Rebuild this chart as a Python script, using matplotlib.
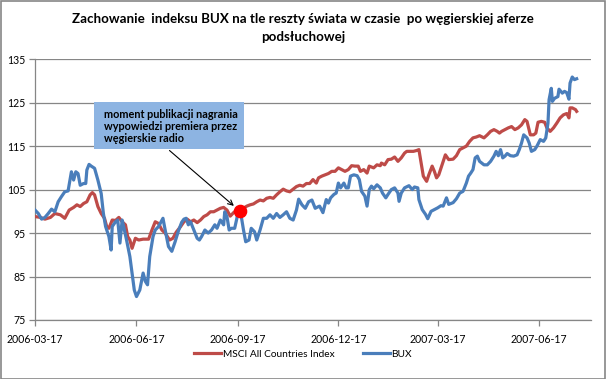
import matplotlib
matplotlib.use("Agg")
import matplotlib.pyplot as plt
from matplotlib.patches import Rectangle
import pandas as pd

# ---------------- data (days since 2006-03-17, index value) ----------------
start_date = "2006-03-17"

bux_days = [0, 3, 6, 9, 12, 15, 18, 21, 24, 27, 30, 33, 35, 37, 39, 41, 44, 46, 47, 49, 51, 54, 57, 60,
            62, 64, 67, 69, 70, 73, 75, 77, 79, 80, 83, 86, 88, 90, 92, 95, 98, 100, 102, 104, 107, 109,
            112, 116, 118, 121, 124, 127, 130, 133, 135, 137, 139, 141, 144, 147, 149, 151, 154, 157, 160,
            163, 165, 168, 171, 172, 174, 176, 178, 181, 183, 184, 187, 189, 191, 194, 196, 199, 201, 204,
            207, 210, 213, 216, 219, 222, 225, 228, 231, 234, 237, 239, 242, 245, 248, 251, 254, 257, 258,
            261, 264, 266, 268, 271, 273, 275, 277, 280, 282, 284, 286, 289, 292, 294, 296, 299, 301, 303,
            305, 307, 310, 313, 315, 318, 320, 323, 326, 329, 330, 332, 335, 339, 342, 344, 347, 348, 351,
            354, 356, 359, 362, 365, 368, 370, 373, 375, 377, 379, 382, 385, 388, 391, 393, 395, 397, 399,
            401, 403, 407, 410, 413, 416, 418, 420, 422, 424, 426, 428, 431, 434, 437, 439, 441, 443, 446,
            448, 450, 453, 455, 458, 461, 463, 465, 466, 468, 469, 471, 474, 475, 478, 480, 482, 484, 485,
            487, 489, 491]
bux_values = [100.3, 99.5, 98.2, 98.6, 99.5, 100.5, 99.9, 102.2, 103.4, 104.5, 104.7, 109.1, 107.2, 109.1,
              108.7, 106.0, 106.4, 106.4, 109.5, 110.8, 110.4, 109.9, 107.2, 104.1, 99.5, 96.5, 94.2, 91.1,
              96.5, 97.6, 98.0, 92.7, 98.0, 96.9, 93.4, 89.6, 85.8, 81.9, 80.4, 81.9, 85.8, 83.9, 83.1,
              89.6, 94.2, 95.7, 96.5, 98.4, 95.7, 91.9, 90.8, 93.0, 95.5, 97.5, 98.2, 98.4, 96.9, 97.6,
              95.7, 93.8, 93.4, 94.2, 95.7, 95.0, 95.7, 96.9, 96.1, 98.0, 96.9, 99.9, 98.8, 95.7, 96.1,
              96.1, 98.4, 100.3, 98.8, 95.7, 93.0, 93.4, 96.1, 95.3, 93.4, 95.7, 98.4, 98.4, 99.2, 98.4,
              99.5, 98.6, 99.2, 99.9, 98.4, 98.0, 100.3, 102.8, 101.5, 100.7, 102.2, 102.6, 100.7, 101.1,
              101.2, 99.7, 102.7, 101.9, 103.1, 103.9, 104.2, 106.5, 105.4, 106.5, 105.4, 105.4, 108.1,
              108.4, 108.2, 107.3, 104.6, 103.5, 101.2, 105.0, 105.8, 105.2, 106.1, 105.4, 104.2, 103.1,
              103.9, 105.0, 105.4, 104.2, 102.3, 104.2, 105.4, 105.9, 105.0, 105.6, 105.4, 102.7, 100.4,
              99.3, 98.3, 100.0, 100.4, 100.8, 101.3, 101.2, 103.1, 101.6, 101.8, 102.0, 102.9, 104.2,
              104.6, 106.5, 108.1, 108.8, 109.6, 112.3, 112.7, 111.5, 110.7, 110.7, 111.5, 112.7, 113.8,
              112.8, 114.2, 112.3, 112.7, 113.3, 112.8, 112.7, 113.0, 114.2, 115.7, 117.6, 116.9, 115.7,
              113.8, 114.2, 115.0, 116.5, 116.1, 116.9, 120.3, 125.7, 128.3, 125.3, 126.0, 126.4, 128.1,
              127.2, 127.6, 127.3, 125.8, 129.5, 130.9, 130.3, 130.5]

msci_days = [0, 5, 9, 14, 18, 23, 27, 31, 35, 38, 41, 44, 47, 50, 52, 54, 57, 60, 63, 65, 67, 70, 73, 76,
             79, 82, 84, 86, 88, 91, 94, 98, 103, 106, 109, 112, 115, 118, 122, 125, 128, 132, 135, 138,
             141, 144, 147, 150, 153, 156, 159, 162, 165, 168, 171, 174, 177, 180, 183, 186, 189, 192,
             195, 198, 201, 204, 207, 210, 213, 216, 219, 222, 225, 228, 231, 234, 237, 240, 243, 246,
             249, 252, 255, 257, 260, 263, 266, 269, 272, 275, 278, 281, 284, 287, 290, 293, 295, 298,
             301, 303, 307, 310, 313, 314, 317, 320, 323, 326, 329, 332, 335, 337, 340, 343, 346, 348,
             350, 352, 355, 357, 360, 362, 364, 366, 369, 372, 375, 379, 382, 385, 388, 391, 394, 397,
             400, 403, 407, 410, 413, 416, 419, 421, 423, 426, 429, 432, 435, 438, 441, 444, 446, 449,
             452, 454, 456, 459, 462, 464, 467, 470, 473, 476, 479, 482, 484, 485, 487, 490, 491]
msci_values = [98.8, 98.6, 98.2, 98.6, 99.5, 99.2, 98.4, 100.3, 100.9, 101.5, 101.1, 101.8, 102.2, 103.8,
               104.3, 103.8, 101.1, 99.5, 98.4, 96.5, 96.1, 98.0, 97.9, 98.6, 97.6, 96.9, 94.2, 93.4,
               91.5, 93.8, 93.4, 93.6, 93.6, 95.7, 97.6, 97.2, 95.7, 95.0, 93.4, 93.8, 95.2, 96.5, 97.6,
               98.2, 97.6, 98.0, 97.4, 98.0, 98.8, 99.2, 99.9, 99.9, 100.3, 100.7, 100.9, 100.3, 98.9,
               99.7, 100.3, 100.3, 100.7, 101.2, 101.5, 101.7, 102.2, 102.6, 102.4, 103.0, 103.2, 103.0,
               103.8, 104.5, 105.1, 104.7, 104.5, 105.1, 105.7, 106.0, 105.8, 106.4, 106.4, 107.3, 106.5,
               107.7, 108.1, 108.4, 108.7, 109.2, 109.2, 110.0, 109.6, 109.2, 109.6, 110.5, 110.4, 110.4,
               109.2, 109.6, 108.8, 110.4, 110.0, 110.7, 110.5, 111.1, 110.7, 111.9, 112.0, 112.5, 111.5,
               112.3, 113.4, 113.8, 113.8, 113.8, 114.0, 114.2, 111.1, 108.1, 106.9, 108.4, 110.4, 109.2,
               107.7, 108.4, 110.7, 113.0, 111.9, 112.0, 112.8, 114.2, 114.6, 115.0, 116.1, 116.9, 117.1,
               117.4, 116.9, 117.6, 118.4, 118.8, 118.4, 118.0, 118.4, 118.8, 119.2, 119.5, 118.8, 119.2,
               119.9, 121.1, 120.7, 117.6, 117.6, 118.0, 120.5, 120.7, 120.5, 119.2, 118.4, 119.2, 120.3,
               121.5, 122.2, 122.5, 121.5, 123.8, 123.8, 123.4, 123.0]

event_day = 186
event_value = 100.0

tick_labels = ["2006-03-17", "2006-06-17", "2006-09-17", "2006-12-17", "2007-03-17", "2007-06-17"]
y_ticks = [75, 85, 95, 105, 115, 125, 135]

series_names = ["MSCI All Countries Index", "BUX"]
title_lines = ["Zachowanie  indeksu BUX na tle reszty świata w czasie  po węgierskiej aferze",
               "podsłuchowej"]
note_lines = ["moment publikacji nagrania", "wypowiedzi premiera przez", "węgierskie radio"]

# ---------------- plotting ----------------
FONT = ["Lato", "DejaVu Sans"]
plt.rcParams["font.family"] = FONT

W, H = 606, 379
fig = plt.figure(figsize=(W / 100, H / 100), dpi=100)
fig.patch.set_facecolor("white")

ax = fig.add_axes([35 / W, 1 - 320 / H, (591 - 35) / W, (320 - 59.2) / H])

t0 = pd.Timestamp(start_date)
bux_dates = t0 + pd.to_timedelta(bux_days, unit="D")
msci_dates = t0 + pd.to_timedelta(msci_days, unit="D")
event_date = t0 + pd.Timedelta(days=event_day)

red = "#BE4B48"
blue = "#4A7EBB"
grid_c = "#868686"

l1, = ax.plot(msci_dates, msci_values, color=red, lw=2.3, solid_joinstyle="round", zorder=3)
l2, = ax.plot(bux_dates, bux_values, color=blue, lw=2.3, solid_joinstyle="round", zorder=4)
ax.plot([event_date], [event_value], "o", color="#FF0000", markersize=8.8, zorder=6)

ax.set_ylim(75, 135)
ax.set_yticks(y_ticks)
ax.set_xlim(t0, t0 + pd.Timedelta(days=504))
ax.set_xticks([pd.Timestamp(t) for t in tick_labels])
ax.set_xticklabels(tick_labels)

ax.grid(axis="y", color=grid_c, lw=0.9)
ax.set_axisbelow(True)
for s in ["top", "right"]:
    ax.spines[s].set_visible(False)
for s in ["left", "bottom"]:
    ax.spines[s].set_color(grid_c)
    ax.spines[s].set_linewidth(0.9)
ax.tick_params(axis="both", colors=grid_c, length=4, width=0.9, direction="out",
               labelcolor="black", labelsize=7.6, pad=3)
ax.tick_params(axis="x", pad=6)

# title
fig.text(0.5, 1 - 19 / H, title_lines[0], ha="center", va="center", fontsize=9.6, fontweight="bold")
fig.text(0.5, 1 - 37 / H, title_lines[1], ha="center", va="center", fontsize=9.6, fontweight="bold")

# annotation box
fig.patches.append(Rectangle((94 / W, 1 - 149.3 / H), 150 / W, 47.6 / H, transform=fig.transFigure,
                             facecolor="#8DB4E2", edgecolor="none", zorder=5))
for i, line in enumerate(note_lines):
    fig.text(104 / W, 1 - (114 + 12.3 * i) / H, line, ha="left", va="center", fontsize=7.8,
             fontweight="bold", zorder=6)

ax.annotate("", xy=(event_date, event_value), xycoords="data",
            xytext=(169.5, H - 150.5), textcoords="figure pixels",
            arrowprops=dict(arrowstyle="->", color="black", lw=0.8, shrinkA=0, shrinkB=6,
                            mutation_scale=9), zorder=7, annotation_clip=False)

# legend
fig.legend([l1, l2], series_names, loc="center", bbox_to_anchor=(0.5, 1 - 354 / H), ncol=2,
           frameon=False, fontsize=7.3, handlelength=2.7, columnspacing=2.8, handletextpad=0.15)

# outer border
fig.patches.append(Rectangle((0.5 / W, 0.5 / H), (W - 1.5) / W, (H - 1.5) / H, transform=fig.transFigure,
                             facecolor="none", edgecolor="#868686", lw=1.2, zorder=10))

fig.savefig("out.png", dpi=100)
